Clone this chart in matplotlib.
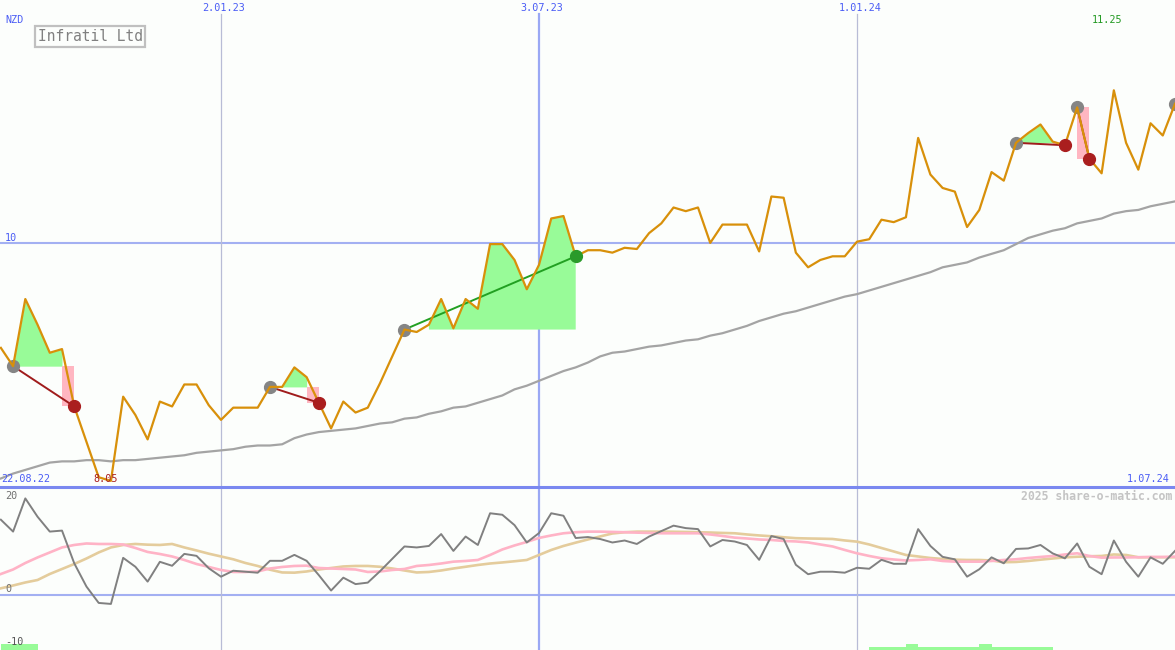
import numpy as np
import matplotlib
matplotlib.use("Agg")
import matplotlib.pyplot as plt
from matplotlib.lines import Line2D

# weekly closes, NZD (week 0 = first plotted week)
price = [9.14, 8.99, 9.54, 9.33, 9.10, 9.13, 8.66, 8.37, 8.08, 8.05,
         8.74, 8.59, 8.39, 8.70, 8.66, 8.84, 8.84, 8.67, 8.55, 8.65,
         8.65, 8.65, 8.82, 8.82, 8.98, 8.90, 8.69, 8.48, 8.70, 8.61,
         8.65, 8.85, 9.07, 9.29, 9.27, 9.33, 9.54, 9.30, 9.54, 9.46,
         9.99, 9.99, 9.86, 9.62, 9.82, 10.20, 10.22, 9.89, 9.94, 9.94,
         9.92, 9.96, 9.95, 10.08, 10.16, 10.29, 10.26, 10.29, 10.00, 10.15,
         10.15, 10.15, 9.93, 10.38, 10.37, 9.92, 9.80, 9.86, 9.89, 9.89,
         10.01, 10.03, 10.19, 10.17, 10.21, 10.86, 10.56, 10.45, 10.42, 10.13,
         10.27, 10.58, 10.51, 10.82, 10.90, 10.97, 10.83, 10.80, 11.11, 10.69,
         10.57, 11.25, 10.82, 10.60, 10.98, 10.88, 11.14]

# long moving average
ma_long = [8.07, 8.11, 8.14, 8.17, 8.20, 8.21, 8.21, 8.22, 8.22, 8.21,
           8.22, 8.22, 8.23, 8.24, 8.25, 8.26, 8.28, 8.29, 8.30, 8.31,
           8.33, 8.34, 8.34, 8.35, 8.40, 8.43, 8.45, 8.46, 8.47, 8.48,
           8.50, 8.52, 8.53, 8.56, 8.57, 8.60, 8.62, 8.65, 8.66, 8.69,
           8.72, 8.75, 8.80, 8.83, 8.87, 8.91, 8.95, 8.98, 9.02, 9.07,
           9.10, 9.11, 9.13, 9.15, 9.16, 9.18, 9.20, 9.21, 9.24, 9.26,
           9.29, 9.32, 9.36, 9.39, 9.42, 9.44, 9.47, 9.50, 9.53, 9.56,
           9.58, 9.61, 9.64, 9.67, 9.70, 9.73, 9.76, 9.80, 9.82, 9.84,
           9.88, 9.91, 9.94, 9.99, 10.04, 10.07, 10.10, 10.12, 10.16, 10.18,
           10.20, 10.24, 10.26, 10.27, 10.30, 10.32, 10.34]

# lower panel indicator
osc = [15.2, 12.8, 19.5, 15.8, 12.8, 13.0, 6.4, 1.7, -1.6, -1.8,
       7.5, 5.7, 2.7, 6.7, 5.9, 8.3, 7.9, 5.4, 3.7, 4.9,
       4.7, 4.5, 6.9, 6.9, 8.1, 6.9, 4.0, 0.9, 3.5, 2.2,
       2.5, 4.8, 7.3, 9.8, 9.6, 9.9, 12.3, 8.9, 11.8, 10.1,
       16.5, 16.2, 14.1, 10.6, 12.5, 16.5, 16.0, 11.5, 11.7, 11.3,
       10.6, 11.0, 10.3, 11.8, 12.9, 14.0, 13.5, 13.3, 9.8, 11.1,
       10.8, 10.1, 7.1, 11.9, 11.3, 6.1, 4.2, 4.7, 4.7, 4.5,
       5.5, 5.3, 7.1, 6.3, 6.3, 13.3, 9.9, 7.7, 7.2, 3.7,
       5.2, 7.6, 6.4, 9.3, 9.4, 10.1, 8.4, 7.4, 10.4, 5.7,
       4.2, 11.0, 6.7, 3.7, 7.6, 6.3, 8.9]

osc_fast = [4.24, 5.15, 6.46, 7.58, 8.59, 9.60, 10.10, 10.40, 10.30, 10.30,
            10.20, 9.49, 8.69, 8.28, 7.78, 7.07, 6.26, 5.66, 5.05, 4.65,
            4.65, 4.75, 5.35, 5.66, 5.86, 5.92, 5.45, 5.35, 5.25, 5.15,
            4.65, 4.75, 5.05, 5.25, 5.86, 6.06, 6.36, 6.73, 6.87, 7.07,
            8.08, 9.19, 10.0, 10.71, 11.52, 12.02, 12.46, 12.67, 12.79, 12.79,
            12.73, 12.67, 12.59, 12.53, 12.46, 12.46, 12.46, 12.46, 12.22, 11.92,
            11.58, 11.41, 11.21, 11.11, 10.91, 10.81, 10.61, 10.20, 9.80, 9.09,
            8.42, 7.88, 7.41, 7.17, 6.97, 7.07, 7.21, 6.87, 6.73, 6.73,
            6.73, 6.87, 7.07, 7.21, 7.47, 7.68, 7.88, 8.18, 8.42, 7.88,
            7.54, 7.58, 7.58, 7.62, 7.68, 7.68, 7.74]

osc_slow = [1.35, 1.92, 2.53, 3.03, 4.24, 5.25, 6.26, 7.37, 8.59, 9.60,
            10.10, 10.30, 10.16, 10.10, 10.30, 9.60, 8.99, 8.34, 7.78, 7.21,
            6.46, 5.86, 5.11, 4.55, 4.51, 4.75, 5.15, 5.45, 5.76, 5.86,
            5.86, 5.70, 5.35, 4.95, 4.55, 4.65, 4.95, 5.35, 5.70, 6.06,
            6.36, 6.57, 6.81, 7.07, 8.08, 9.09, 9.90, 10.57, 11.21, 11.82,
            12.42, 12.67, 12.79, 12.79, 12.79, 12.77, 12.73, 12.67, 12.61, 12.53,
            12.46, 12.22, 12.02, 11.86, 11.66, 11.47, 11.41, 11.37, 11.31, 11.01,
            10.77, 10.20, 9.49, 8.79, 8.08, 7.78, 7.47, 7.27, 7.13, 7.07,
            7.07, 6.97, 6.61, 6.67, 6.87, 7.13, 7.37, 7.60, 7.72, 7.82,
            7.88, 8.18, 8.08, 7.62, 7.62, 7.62, 7.62]

# small green bars at the foot of the lower panel
bar_weeks = [0, 1, 2] + list(range(71, 86))
bar_tops = [-9.9, -9.9, -9.9,
            -10.57, -10.57, -10.57, -9.9, -10.57, -10.57, -10.57, -10.57, -10.57,
            -9.9, -10.57, -10.57, -10.57, -10.57, -10.57]

# trade signals: start week, end week (None = still open), won?
sig_start = [1, 22, 33, 83, 88, 96]
sig_end = [6, 26, 47, 87, 89, None]
sig_win = [False, False, True, False, False, None]

date_labels = ["2.01.23", "3.07.23", "1.01.24"]
date_weeks = [18, 44, 70]
first_label = "22.08.22"
last_label = "1.07.24"
currency = "NZD"
name = "Infratil Ltd"

BG = "#fcfefc"
BLUE_TXT = "#4a5cf5"
GRID = "#a3b0f2"
MONO = "DejaVu Sans Mono"

x = np.arange(len(price))
p = np.array(price)

fig = plt.figure(figsize=(11.75, 6.5), dpi=100, facecolor=BG)
h_top = 487 / 650
ax = fig.add_axes([0, 1 - h_top, 1, h_top], facecolor=BG)
ax2 = fig.add_axes([0, 0, 1, 1 - h_top], facecolor=BG, sharex=ax)

for a in (ax, ax2):
    a.set_xticks([])
    a.set_yticks([])
    for s in a.spines.values():
        s.set_visible(False)

ax.set_xlim(-0.07, 96.0)
ax.set_ylim(8.0, 11.99)
ax2.set_ylim(-11.1, 21.8)

# grid
ax.axhline(10, color=GRID, lw=1.5, zorder=1)
ax2.axhline(0, color=GRID, lw=1.5, zorder=1)
for lab, w in zip(date_labels, date_weeks):
    if lab.startswith("3.07"):
        col, lw = "#9aa8f4", 1.6
    else:
        col, lw = "#b8bcd6", 0.9
    ax.axvline(w, ymax=0.972, color=col, lw=lw, zorder=1)
    ax2.axvline(w, color=col, lw=lw, zorder=1)
    ax.text(w + 0.25, 0.984, lab, transform=ax.get_xaxis_transform(),
            ha="center", va="center", fontsize=7.3, family=MONO, color=BLUE_TXT)

fig.add_artist(Line2D([0, 1], [1 - h_top, 1 - h_top], transform=fig.transFigure,
                      color="#7a88f0", lw=2.2))

# signal fills
for s, e, win in zip(sig_start, sig_end, sig_win):
    if e is None:
        continue
    seg = slice(s, e + 1) if win else slice(s, e)
    xs = x[seg]
    ys = p[seg]
    ax.fill_between(xs, ys, p[s], where=ys >= p[s], color="#98fb98", lw=0, zorder=2)
    if not win:
        ax.fill_between([e - 1, e], p[s], p[e], color="#ffb6c1", lw=0, zorder=2)

ax.plot(x, ma_long, color="#a4a4a4", lw=1.6, zorder=3)

for s, e, win in zip(sig_start, sig_end, sig_win):
    if e is not None:
        lc = "#22a022" if win else "#a01c1c"
        ax.plot([s, e], [p[s], p[e]], color=lc, lw=1.4, zorder=4)
    ax.plot(s, p[s], "o", ms=8.5, color="#858585", zorder=5)

ax.plot(x, price, color="#d8900a", lw=1.6, zorder=6)

for s, e, win in zip(sig_start, sig_end, sig_win):
    if e is None:
        continue
    dc = "#2a9a2a" if win else "#aa1e1e"
    ax.plot(e, p[e], "o", ms=8.5, color=dc, zorder=7)

# labels in price panel
ax.text(5 / 1175, 1 - 20 / 487, currency, transform=ax.transAxes, ha="left", va="center",
        fontsize=7.3, family=MONO, color=BLUE_TXT)
ax.text(90 / 1175, 1 - 36.5 / 487, name, transform=ax.transAxes, ha="center", va="center",
        fontsize=10.5, family=MONO, color="#808080",
        bbox=dict(boxstyle="square,pad=0.2", fc=BG, ec="#c0c0c0", lw=1.6), zorder=8)
ax.text(5 / 1175, 10.04, "10", transform=ax.get_yaxis_transform(), ha="left", va="center",
        fontsize=7.3, family=MONO, color=BLUE_TXT)
imax = int(np.argmax(p))
imin = int(np.argmin(p))
ax.text(imax - 0.55, 0.959, f"{p[imax]:.2f}", transform=ax.get_xaxis_transform(),
        ha="center", va="center", fontsize=7.3, family=MONO, color="#229922")
ax.text(imin - 0.4, 1 - 479 / 487, f"{p[imin]:.2f}", transform=ax.get_xaxis_transform(),
        ha="center", va="center", fontsize=7.3, family=MONO, color="#aa1e1e", zorder=8)
ax.text(1 / 1175, 1 - 479 / 487, first_label, transform=ax.transAxes, ha="left", va="center",
        fontsize=7.3, family=MONO, color=BLUE_TXT, zorder=8)
ax.text(1170 / 1175, 1 - 479 / 487, last_label, transform=ax.transAxes, ha="right", va="center",
        fontsize=7.3, family=MONO, color=BLUE_TXT, zorder=8)

# lower panel
ax2.bar(bar_weeks, np.array(bar_tops) + 12, bottom=-12, width=1.0, align="edge",
        color="#98fb98", lw=0, zorder=2)
ax2.plot(x, osc_slow, color="#e4cc9c", lw=1.9, zorder=3)
ax2.plot(x, osc_fast, color="#ffb3c6", lw=1.9, zorder=4)
ax2.plot(x, osc, color="#808080", lw=1.4, zorder=5)

ax2.text(5 / 1175, 20.0, "20", transform=ax2.get_yaxis_transform(), ha="left", va="center",
         fontsize=7.3, family=MONO, color="#707070")
ax2.text(5 / 1175, 1.2, "0", transform=ax2.get_yaxis_transform(), ha="left", va="center",
         fontsize=7.3, family=MONO, color="#707070")
ax2.text(5 / 1175, -9.5, "-10", transform=ax2.get_yaxis_transform(), ha="left", va="center",
         fontsize=7.3, family=MONO, color="#555555", zorder=6)
ax2.text(1172 / 1175, 1 - 9 / 163, "2025 share-o-matic.com", transform=ax2.transAxes,
         ha="right", va="center", fontsize=8.3, family=MONO, fontweight="bold", color="#c4c4c4")

fig.savefig("out.png", dpi=100, facecolor=BG)
